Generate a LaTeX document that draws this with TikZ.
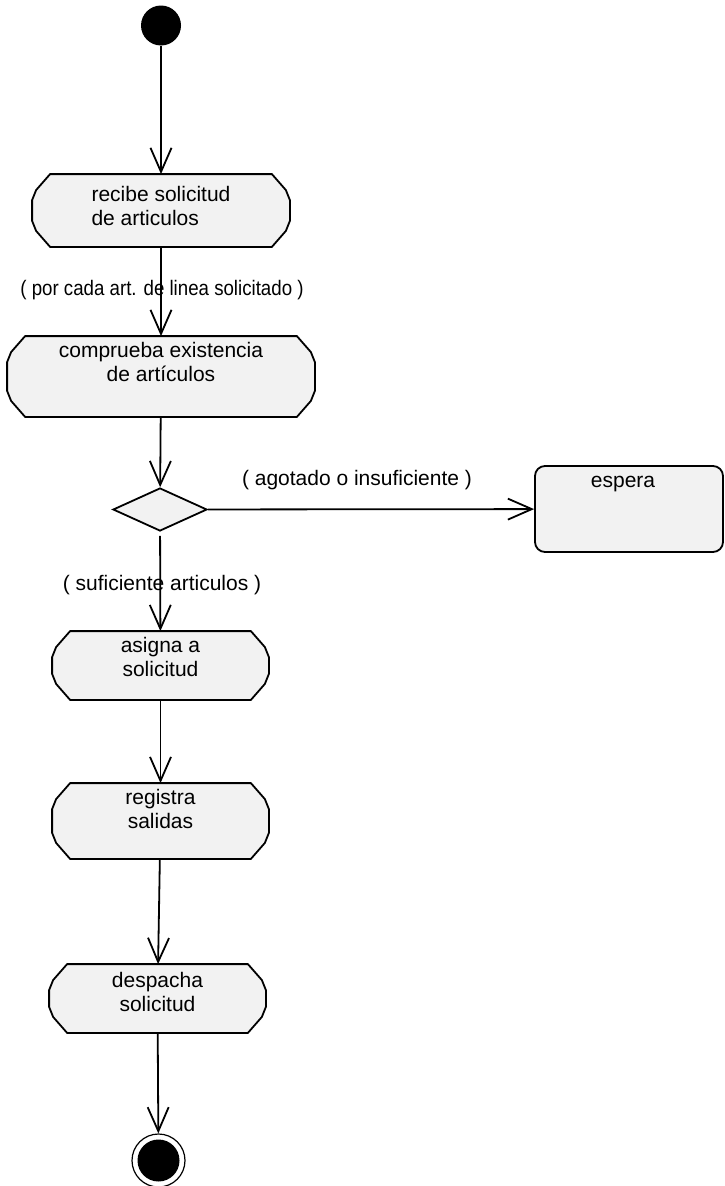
\documentclass[tikz,border=0pt]{standalone}
\usepackage{fontspec}
\setmainfont{Liberation Sans}
\usetikzlibrary{arrows.meta, positioning, shapes.geometric}

\begin{document}
\begin{tikzpicture}[x=1pt, y=1pt, line width=1.8pt,
  font=\fontsize{21}{24}\selectfont,
  % activity box: flat top and bottom, faceted ends
  accion/.style={rectangle, inner sep=0pt, append after command={\pgfextra{
    \draw[fill=black!5, line join=round]
      ([xshift=18pt]\tikzlastnode.north west) -- ([xshift=-18pt]\tikzlastnode.north east)
      -- ([xshift=-4pt, yshift=-16pt]\tikzlastnode.north east)
      -- ([yshift=-26pt]\tikzlastnode.north east)
      -- ([yshift=26pt]\tikzlastnode.south east)
      -- ([xshift=-4pt, yshift=16pt]\tikzlastnode.south east)
      -- ([xshift=-18pt]\tikzlastnode.south east) -- ([xshift=18pt]\tikzlastnode.south west)
      -- ([xshift=4pt, yshift=16pt]\tikzlastnode.south west)
      -- ([yshift=26pt]\tikzlastnode.south west)
      -- ([yshift=-26pt]\tikzlastnode.north west)
      -- ([xshift=4pt, yshift=-16pt]\tikzlastnode.north west) -- cycle;}}},
  estado/.style={rectangle, rounded corners=10pt, draw, fill=black!5, inner sep=0pt},
  texto/.style={anchor=north, yshift=-2pt, align=center},
  flujo/.style={-{Straight Barb[length=24pt, width=21pt]}}]
  \useasboundingbox (0,0) rectangle (724,-1186);

  % Start and end states
  \node[circle, fill=black, minimum size=40pt, inner sep=0pt] (inicio) at (161,-25.5) {};
  \node[circle, draw, line width=1.2pt, minimum size=53pt, inner sep=0pt] (fin) at (158.5,-1160.5) {};
  \node[circle, fill=black, minimum size=42pt, inner sep=0pt] (fin-centro) at (fin) {};

  % Activities
  \node[accion, minimum width=256pt, minimum height=71pt,
    label={[texto, yshift=-6pt, align=left]north:{recibe solicitud\\de articulos}}] (recibe) at (161,-210.5) {};
  \node[accion, minimum width=306pt, minimum height=79pt,
    label={[texto]north:{comprueba existencia\\de artículos}}] (comprueba) at (161,-376.5) {};
  \node[diamond, draw, fill=black!5, minimum width=94pt, minimum height=43pt, inner sep=0pt] (decision) at (160,-509.5) {};
  \node[estado, minimum width=188pt, minimum height=86pt,
    label={[texto, xshift=-6pt, yshift=-5pt]north:espera}] (espera) at (629,-509) {};
  \node[accion, minimum width=215pt, minimum height=67pt,
    label={[texto]north:{asigna a\\solicitud}}] (asigna) at (160.5,-665.5) {};
  \node[accion, minimum width=215pt, minimum height=74pt,
    label={[texto]north:{registra\\salidas}}] (registra) at (160.5,-821) {};
  \node[accion, minimum width=215pt, minimum height=67pt,
    label={[texto, yshift=-2pt]north:{despacha\\solicitud}}] (despacha) at (157.5,-998.5) {};

  % Guards
  \node (guarda-linea) at (162,-290) {\scalebox{0.89}[1]{( por cada art. de linea solicitado )}};
  \node (guarda-agotado) at (357,-480) {( agotado o insuficiente )};
  \node (guarda-suficiente) at (162,-585) {( suficiente articulos )};

  % Transitions
  \draw[flujo] (inicio) -- (recibe);
  \draw[flujo] (recibe) -- (comprueba);
  \draw[flujo] (comprueba) -- (decision);
  \draw[flujo] (decision) -- (espera);
  \draw[flujo, shorten <=4pt] (decision) -- (asigna);
  \draw[flujo] (asigna) -- (registra);
  \draw[flujo] (registra) -- (despacha);
  \draw[flujo] (despacha) -- (fin);
\end{tikzpicture}
\end{document}
